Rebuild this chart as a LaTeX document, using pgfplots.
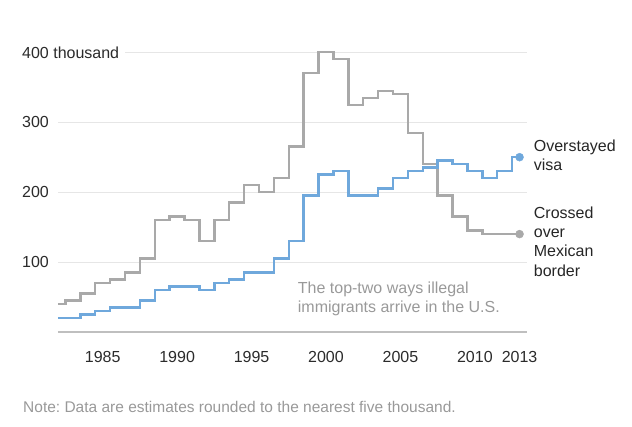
\documentclass[border=0pt]{standalone}
\usepackage{fontspec}
\setmainfont{Liberation Sans}
\usepackage{pgfplots}
\pgfplotsset{compat=1.18}
\frenchspacing

\definecolor{visablue}{HTML}{6FA8DC}
\definecolor{bordergray}{HTML}{A9A9A9}
\definecolor{gridgray}{HTML}{E6E6E6}
\definecolor{notegray}{HTML}{999999}
\definecolor{labeldark}{HTML}{2B2B2B}

\newcommand{\chartfont}{\fontsize{16}{19}\selectfont}

\begin{document}
\begin{tikzpicture}
\begin{axis}[
    name=ax,
    scale only axis,
    width=469pt, height=279.7pt,
    xmin=1982, xmax=2013.5,
    ymin=0, ymax=400,
    clip=false,
    axis line style={draw=none},
    major tick length=0pt,
    xtick={1985,1990,1995,2000,2005,2010,2013},
    xticklabels={1985,1990,1995,2000,2005,2010,2013},
    ytick={100,200,300,400},
    yticklabels={100,200,300,400 thousand},
    ymajorgrids,
    grid style={gridgray, line width=1pt},
    extra y ticks={0},
    extra y tick labels={},
    extra y tick style={grid style={black!25, line width=1.5pt}},
    tick label style={font=\chartfont, text=labeldark},
    xticklabel style={anchor=base, inner sep=0pt, yshift=-30.7pt},
    yticklabel style={anchor=west, fill=white, inner ysep=0pt, inner xsep=6pt, xshift=-42pt},
]
% crossed over Mexican border
\addplot[const plot mark mid, bordergray, line width=2.4pt] coordinates {
    (1982,40) (1983,45) (1984,55) (1985,70) (1986,75) (1987,85) (1988,105)
    (1989,160) (1990,165) (1991,160) (1992,130) (1993,160) (1994,185)
    (1995,210) (1996,200) (1997,220) (1998,265) (1999,370) (2000,400)
    (2001,390) (2002,325) (2003,335) (2004,345) (2005,340) (2006,285)
    (2007,240) (2008,195) (2009,165) (2010,145) (2011,140) (2012,140) (2013,140)
};
% overstayed visa
\addplot[const plot mark mid, visablue, line width=2.4pt] coordinates {
    (1982,20) (1983,20) (1984,25) (1985,30) (1986,35) (1987,35) (1988,45)
    (1989,60) (1990,65) (1991,65) (1992,60) (1993,70) (1994,75)
    (1995,85) (1996,85) (1997,105) (1998,130) (1999,195) (2000,225)
    (2001,230) (2002,195) (2003,195) (2004,205) (2005,220) (2006,230)
    (2007,235) (2008,245) (2009,240) (2010,230) (2011,220) (2012,230) (2013,250)
};
\addplot[only marks, mark=*, mark size=4pt, visablue] coordinates {(2013,250)};
\addplot[only marks, mark=*, mark size=4pt, bordergray] coordinates {(2013,140)};

\node[anchor=base west, inner sep=0pt, font=\chartfont, text=notegray] at (axis cs:1998.1,55.1) {The top-two ways illegal};
\node[anchor=base west, inner sep=0pt, font=\chartfont, text=notegray] at (axis cs:1998.1,27.4) {immigrants arrive in the U.S.};

\node[anchor=base west, inner sep=0pt, font=\chartfont, text=black!85] at (axis cs:2013.95,257.9) {Overstayed};
\node[anchor=base west, inner sep=0pt, font=\chartfont, text=black!85] at (axis cs:2013.95,230.7) {visa};
\node[anchor=base west, inner sep=0pt, font=\chartfont, text=black!85] at (axis cs:2013.95,162.6) {Crossed};
\node[anchor=base west, inner sep=0pt, font=\chartfont, text=black!85] at (axis cs:2013.95,135.4) {over};
\node[anchor=base west, inner sep=0pt, font=\chartfont, text=black!85] at (axis cs:2013.95,107.7) {Mexican};
\node[anchor=base west, inner sep=0pt, font=\chartfont, text=black!85] at (axis cs:2013.95,79.1) {border};

\node[anchor=base west, inner sep=0pt, font=\fontsize{15.5}{18}\selectfont, text=notegray] at (axis cs:1979.65,-115.4) {Note: Data are estimates rounded to the nearest five thousand.};
\end{axis}
\path[use as bounding box] ([xshift=-58pt,yshift=-95pt]ax.south west) rectangle ([xshift=105pt,yshift=52.3pt]ax.north east);
\end{tikzpicture}
\end{document}
